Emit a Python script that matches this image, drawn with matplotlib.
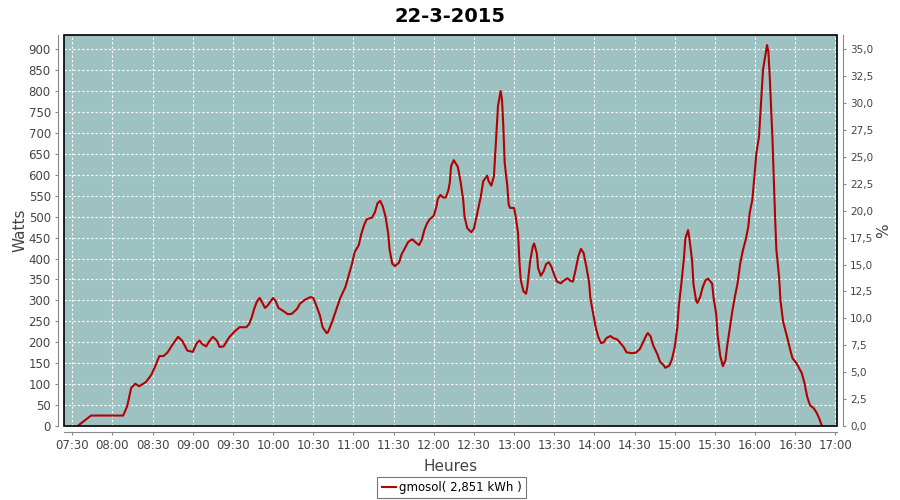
import matplotlib as mpl
mpl.use('Agg')
import matplotlib.pyplot as plt
import matplotlib.dates as mdates
from matplotlib.patches import Rectangle
from matplotlib.ticker import MultipleLocator, FuncFormatter
import pandas as pd

# Readings of the day (time of day, watts)
times = [
    "07:34", "07:44", "08:08", "08:11", "08:14", "08:17", "08:20", "08:25", "08:29", "08:32",
    "08:35", "08:38", "08:41", "08:45", "08:49", "08:52", "08:56", "09:00", "09:03", "09:05",
    "09:07", "09:10", "09:12", "09:15", "09:18", "09:20", "09:23", "09:27", "09:31", "09:35",
    "09:40", "09:42", "09:44", "09:46", "09:48", "09:50", "09:54", "09:56", "10:00", "10:02",
    "10:04", "10:08", "10:11", "10:14", "10:18", "10:20", "10:24", "10:28", "10:30", "10:32",
    "10:35", "10:37", "10:40", "10:41", "10:44", "10:47", "10:50", "10:54", "10:56", "10:59",
    "11:01", "11:04", "11:06", "11:08", "11:10", "11:14", "11:16", "11:18", "11:20", "11:22",
    "11:24", "11:26", "11:27", "11:29", "11:31", "11:34", "11:36", "11:39", "11:41", "11:44",
    "11:46", "11:49", "11:51", "11:53", "11:55", "11:57", "12:00", "12:02", "12:03", "12:05",
    "12:07", "12:09", "12:11", "12:12", "12:13", "12:15", "12:18", "12:20", "12:22", "12:23",
    "12:25", "12:28", "12:30", "12:32", "12:35", "12:37", "12:40", "12:41", "12:43", "12:45",
    "12:46", "12:47", "12:48", "12:50", "12:51", "12:52", "12:53", "12:55", "12:56", "12:57",
    "13:00", "13:01", "13:03", "13:04", "13:05", "13:07", "13:09", "13:10", "13:12", "13:14",
    "13:15", "13:17", "13:18", "13:20", "13:22", "13:24", "13:26", "13:28", "13:30", "13:32",
    "13:35", "13:37", "13:40", "13:42", "13:44", "13:46", "13:48", "13:50", "13:52", "13:54",
    "13:56", "13:57", "13:59", "14:01", "14:03", "14:05", "14:07", "14:09", "14:12", "14:14",
    "14:17", "14:19", "14:22", "14:24", "14:28", "14:31", "14:34", "14:37", "14:39", "14:40",
    "14:42", "14:44", "14:47", "14:49", "14:52", "14:53", "14:56", "14:58", "15:00", "15:02",
    "15:03", "15:05", "15:07", "15:08", "15:10", "15:11", "15:13", "15:14", "15:16", "15:17",
    "15:19", "15:21", "15:23", "15:25", "15:28", "15:29", "15:31", "15:32", "15:34", "15:36",
    "15:38", "15:39", "15:41", "15:43", "15:45", "15:47", "15:49", "15:51", "15:53", "15:55",
    "15:56", "15:58", "15:59", "16:00", "16:01", "16:03", "16:04", "16:05", "16:06", "16:08",
    "16:09", "16:10", "16:11", "16:13", "16:14", "16:15", "16:16", "16:18", "16:19", "16:21",
    "16:24", "16:26", "16:28", "16:31", "16:33", "16:35", "16:37", "16:39", "16:41", "16:44",
    "16:46", "16:48", "16:50",
]
watts = [
    0, 25, 25, 47, 91, 101, 95, 105, 122, 143,
    167, 167, 175, 195, 213, 204, 180, 177, 198, 204,
    196, 190, 201, 213, 204, 189, 190, 211, 225, 236,
    236, 243, 259, 281, 298, 306, 282, 288, 306, 298,
    282, 274, 267, 268, 280, 292, 302, 308, 306, 290,
    264, 236, 222, 224, 248, 276, 304, 332, 354, 388,
    416, 432, 460, 480, 494, 498, 510, 532, 538, 524,
    500, 460, 422, 388, 382, 390, 410, 428, 440, 446,
    440, 432, 444, 468, 484, 494, 502, 524, 542, 552,
    546, 546, 564, 581, 621, 635, 619, 585, 541, 501,
    473, 463, 471, 501, 545, 585, 598, 585, 574, 597,
    652, 708, 764, 800, 780, 716, 629, 573, 529, 521,
    521, 505, 461, 393, 349, 322, 316, 334, 393, 429,
    436, 413, 377, 359, 369, 387, 391, 380, 361, 345,
    341, 347, 353, 347, 345, 373, 405, 423, 413, 381,
    345, 306, 270, 236, 212, 198, 200, 210, 215, 210,
    207, 200, 188, 176, 174, 175, 184, 204, 218, 222,
    214, 192, 172, 154, 144, 139, 144, 160, 188, 236,
    284, 340, 404, 448, 468, 448, 396, 340, 300, 294,
    308, 332, 348, 352, 340, 308, 268, 220, 168, 143,
    158, 186, 229, 273, 309, 341, 389, 420, 444, 476,
    508, 540, 576, 612, 651, 691, 743, 791, 851, 891,
    910, 894, 835, 691, 596, 500, 420, 357, 301, 249,
    213, 186, 162, 150, 138, 126, 102, 70, 50, 42,
    32, 18, 0,
]

title = "22-3-2015"
series_name = "gmosol( 2,851 kWh )"
watts_per_percent = 25.71

day = "2015-03-22 "
t = pd.to_datetime([day + s for s in times])

fig = plt.figure(figsize=(9, 5), dpi=100)
ax = fig.add_axes([0.0711, 0.148, 0.859, 0.782])
ax.set_facecolor('#9EC2C2')

line, = ax.plot(t, watts, color='#B40000', lw=1.5, label=series_name)

ax.set_xlim(pd.Timestamp(day + "07:23:48"), pd.Timestamp(day + "17:01:20"))
ax.set_ylim(0, 934)
ax.yaxis.set_major_locator(MultipleLocator(50))
ax.xaxis.set_major_locator(mdates.MinuteLocator(byminute=[0, 30]))
ax.xaxis.set_major_formatter(mdates.DateFormatter('%H:%M'))

ax.grid(True, color='white', linestyle=(0, (2, 2)), lw=0.8)
ax.set_axisbelow(True)

# grey axis lines set slightly away from the black plot outline
for s in ax.spines.values():
    s.set_visible(False)
for side in ('left', 'bottom'):
    ax.spines[side].set_visible(True)
    ax.spines[side].set_position(('outward', 4))
    ax.spines[side].set_color('#888888')
ax.add_patch(Rectangle((0, 0), 1, 1, transform=ax.transAxes, fill=False,
                       edgecolor='black', lw=1.2, clip_on=False, zorder=5))
ax.tick_params(colors='#888888', labelcolor='#444444', labelsize=8.5, length=2)

ax.set_xlabel("Heures", fontsize=11, color='#444444', labelpad=5)
ax.set_ylabel("Watts", fontsize=11, color='#444444', labelpad=1)

# right axis in percent
ax2 = ax.twinx()
ax2.set_ylim(0, 934 / watts_per_percent)
ax2.yaxis.set_major_locator(MultipleLocator(2.5))
ax2.yaxis.set_major_formatter(FuncFormatter(lambda v, p: f"{v:.1f}".replace('.', ',')))
for s in ax2.spines.values():
    s.set_visible(False)
ax2.spines['right'].set_visible(True)
ax2.spines['right'].set_position(('outward', 4))
ax2.spines['right'].set_color('#888888')
ax2.tick_params(colors='#888888', labelcolor='#444444', labelsize=7.5, length=2)
ax2.set_ylabel("%", fontsize=11, color='#444444', labelpad=2)

fig.suptitle(title, fontsize=14, fontweight='bold', y=0.985)

leg = fig.legend(handles=[line], loc='center', bbox_to_anchor=(0.502, 0.025),
                 fontsize=8.5, frameon=True, fancybox=False, edgecolor='#555555',
                 handlelength=1.2, handletextpad=0.3, borderpad=0.35)
leg.get_frame().set_linewidth(0.8)

fig.savefig('out.png')
